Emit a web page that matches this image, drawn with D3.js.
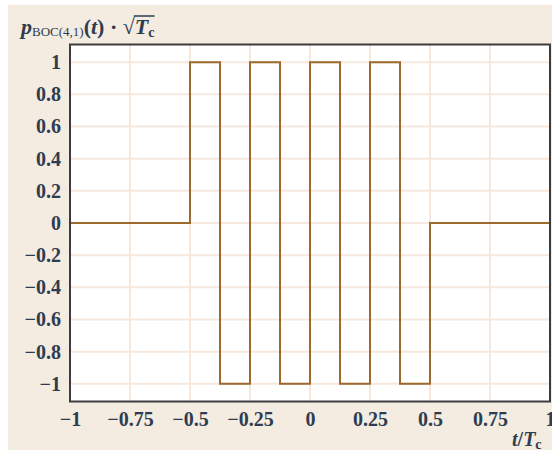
<!DOCTYPE html>
<html><head><meta charset="utf-8">
<script src="https://cdn.jsdelivr.net/npm/d3@7"></script>
<style>
html,body{margin:0;padding:0;background:#fff;}
svg{display:block;}
</style></head>
<body>
<script>
// Data: step waveform breakpoints (t/Tc) and the value that starts at each breakpoint
const breakpoints = [-1, -0.5, -0.375, -0.25, -0.125, 0, 0.125, 0.25, 0.375, 0.5, 1];
const levels      = [ 0,    1,     -1,     1,     -1, 1,    -1,    1,    -1,   0, 0];
const xTicks = [-1, -0.75, -0.5, -0.25, 0, 0.25, 0.5, 0.75, 1];
const yTicks = [-1, -0.8, -0.6, -0.4, -0.2, 0, 0.2, 0.4, 0.6, 0.8, 1];

const W = 552, H = 454;
const svg = d3.select("body").append("svg").attr("width", W).attr("height", H);

// beige panel
svg.append("rect").attr("x", 8).attr("y", 5).attr("width", W - 8).attr("height", 445).attr("fill", "#f4ebe1");

const x = d3.scaleLinear().domain([-1, 1]).range([70, 550]);
const y = d3.scaleLinear().domain([-1.11, 1.11]).range([401.5, 44.5]);

// plot area
svg.append("rect").attr("x", x(-1)).attr("y", y(1.11)).attr("width", x(1) - x(-1)).attr("height", y(-1.11) - y(1.11)).attr("fill", "#fff");

// grid
const grid = svg.append("g").attr("stroke", "#f6e8dc").attr("stroke-width", 2);
grid.selectAll(".gx").data(xTicks.slice(1, -1)).enter().append("line")
  .attr("x1", d => x(d)).attr("x2", d => x(d)).attr("y1", y(1.11)).attr("y2", y(-1.11));
grid.selectAll(".gy").data(yTicks).enter().append("line")
  .attr("y1", d => y(d)).attr("y2", d => y(d)).attr("x1", x(-1)).attr("x2", x(1));

// line
const pts = breakpoints.map((t, i) => [t, levels[i]]);
svg.append("path").datum(pts)
  .attr("d", d3.line().x(d => x(d[0])).y(d => y(d[1])).curve(d3.curveStepAfter))
  .attr("fill", "none").attr("stroke", "#9b6a2c").attr("stroke-width", 2);

// border
svg.append("rect").attr("x", x(-1)).attr("y", y(1.11)).attr("width", x(1) - x(-1)).attr("height", y(-1.11) - y(1.11))
  .attr("fill", "none").attr("stroke", "#3c3c3c").attr("stroke-width", 2);

const fmt = d => d === 0 ? "0" : (d < 0 ? "\u2212" : "") + String(Math.abs(d));
const font = "'Liberation Serif', 'DejaVu Serif', serif";
const ink = "#2d3d4f";

// axes via d3 axis (labels only)
const yAxis = d3.axisLeft(y).tickValues(yTicks).tickSize(0).tickPadding(9).tickFormat(fmt);
const gy = svg.append("g").attr("transform", `translate(${x(-1)},0)`).call(yAxis);
gy.select(".domain").remove();
gy.selectAll("text").attr("font-family", font).attr("font-size", 20).attr("font-weight", "bold").attr("fill", ink);

const xAxis = d3.axisBottom(x).tickValues(xTicks).tickSize(0).tickPadding(10).tickFormat(fmt);
const gx = svg.append("g").attr("transform", `translate(0,${y(-1.11)})`).call(xAxis);
gx.select(".domain").remove();
gx.selectAll("text").attr("font-family", font).attr("font-size", 20).attr("font-weight", "bold").attr("fill", ink);

// y label
const yl = svg.append("text").attr("x", 21).attr("y", 34).attr("font-family", font).attr("fill", ink).attr("font-size", 22).attr("font-weight", "bold");
yl.append("tspan").attr("font-style", "italic").text("p");
yl.append("tspan").attr("font-size", 13).attr("font-weight", "normal").attr("dy", 2).text("BOC(4,1)");
yl.append("tspan").attr("dy", -2).text("(");
yl.append("tspan").attr("font-style", "italic").text("t");
yl.append("tspan").text(") \u00B7 ");
const sq = yl.append("tspan").text("\u221A");
const tT = yl.append("tspan").attr("font-style", "italic").text("T");
yl.append("tspan").attr("font-size", 14).attr("dy", 3).text("c");
// overline of the radical
const sqNode = sq.node(), tNode = tT.node();
const ySq = yl.node();
const eSq = ySq.getExtentOfChar(ySq.textContent.indexOf("\u221A"));
const eT = ySq.getExtentOfChar(ySq.textContent.indexOf("T"));
const eC = ySq.getExtentOfChar(ySq.textContent.length - 1);
svg.append("line").attr("x1", eSq.x + eSq.width - 1).attr("x2", eC.x + eC.width).attr("y1", eSq.y + 2).attr("y2", eSq.y + 2)
  .attr("stroke", ink).attr("stroke-width", 1.5);

// x label
const xl = svg.append("text").attr("x", 512).attr("y", 446).attr("font-family", font).attr("fill", ink).attr("font-size", 20).attr("font-weight", "bold");
xl.append("tspan").attr("font-style", "italic").text("t");
xl.append("tspan").text("/");
xl.append("tspan").attr("font-style", "italic").text("T");
xl.append("tspan").attr("font-size", 14).attr("dy", 3).text("c");
</script>
</body></html>
